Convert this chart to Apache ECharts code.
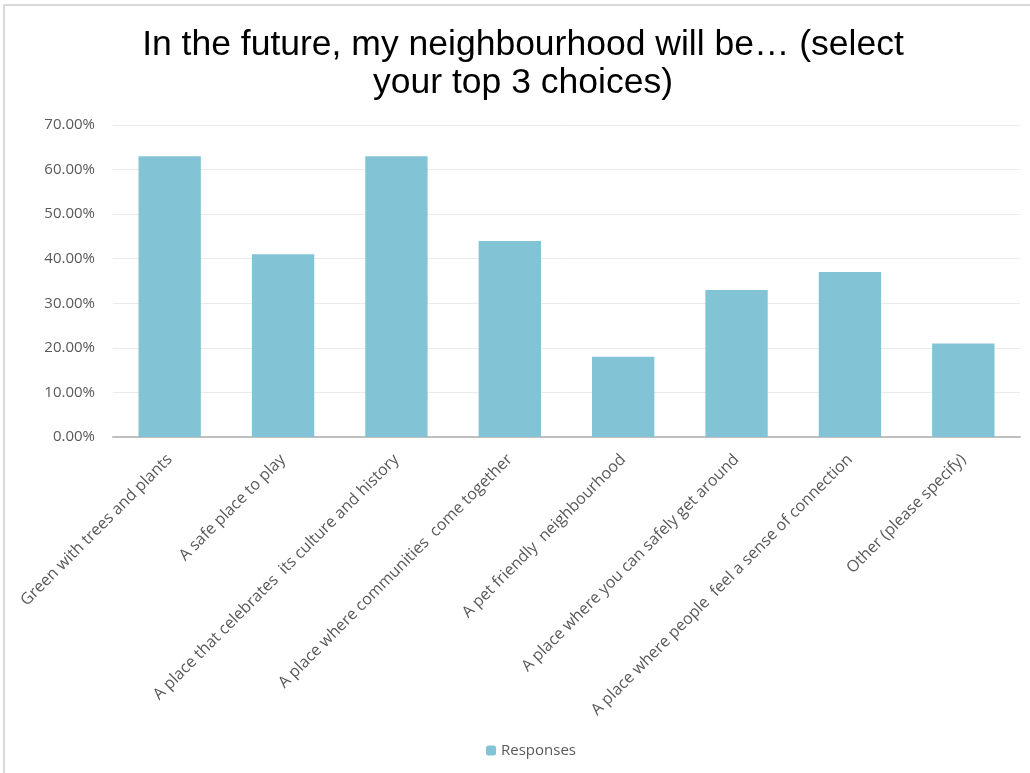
<!DOCTYPE html>
<html><head><meta charset="utf-8">
<script src="https://cdn.jsdelivr.net/npm/echarts@6/dist/echarts.min.js"></script>
<style>
html,body{margin:0;padding:0;background:#fff;}
#c{width:1030px;height:773px;position:absolute;left:0;top:0;}
#frame{position:absolute;left:3px;top:4px;width:1040px;height:800px;border-left:2px solid #d9d9d9;border-top:2px solid #d9d9d9;pointer-events:none;}
</style></head>
<body>
<div id="c"></div>
<div id="frame"></div>
<script>
const titleText = 'In the future, my neighbourhood will be… (select\nyour top 3 choices)';
const categories = [
  'Green with trees and plants',
  'A safe place to play',
  'A place that celebrates  its culture and history',
  'A place where communities  come together',
  'A pet friendly  neighbourhood',
  'A place where you can safely get around',
  'A place where people  feel a sense of connection',
  'Other (please specify)'
];
const seriesName = 'Responses';
const responses = [63, 41, 63, 44, 18, 33, 37, 21];
const yTicks = [0, 10, 20, 30, 40, 50, 60, 70];

const chart = echarts.init(document.getElementById('c'));
chart.setOption({
  animation: false,
  title: {
    text: titleText, left: 518, top: 21, textAlign: 'center',
    textStyle: {fontFamily: 'Liberation Sans', fontSize: 35.5, fontWeight: 'normal', color: '#000', lineHeight: 38}
  },
  legend: {
    data: [seriesName], bottom: 10, left: 481, itemWidth: 10, itemHeight: 10, itemGap: 6,
    textStyle: {fontFamily: 'Open Sans', fontSize: 15, color: '#595959'}
  },
  grid: {left: 113, right: 10, top: 125, bottom: 336, containLabel: false},
  xAxis: {
    type: 'category', data: categories,
    axisLine: {lineStyle: {color: '#bfbfbf', width: 2}},
    axisTick: {show: false},
    axisLabel: {interval: 0, rotate: 45, margin: 20, fontFamily: 'Open Sans', fontSize: 16, color: '#595959'}
  },
  yAxis: {
    type: 'value', min: yTicks[0], max: yTicks[yTicks.length - 1], interval: 10,
    axisLine: {show: false}, axisTick: {show: false},
    splitLine: {lineStyle: {color: '#ebebeb', width: 1}},
    axisLabel: {margin: 18, fontFamily: 'Open Sans', fontSize: 15, color: '#595959',
      formatter: v => v.toFixed(2) + '%'}
  },
  series: [{
    name: seriesName, type: 'bar', data: responses, barCategoryGap: '45%',
    itemStyle: {color: '#82c4d6'}
  }]
});
</script>
</body></html>
